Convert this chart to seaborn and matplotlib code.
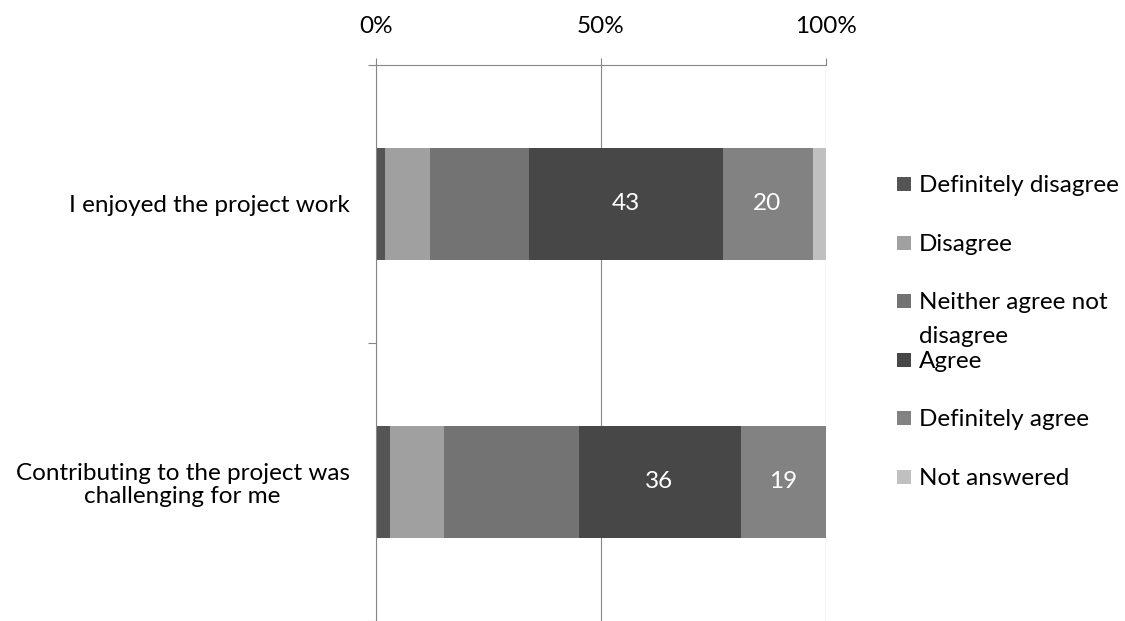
import pandas as pd
import seaborn as sns
import matplotlib.pyplot as plt
from matplotlib.patches import Rectangle

# Survey data (number of answers, each row sums to 100)
questions = ['I enjoyed the project work',
             'Contributing to the project was\nchallenging for me']
responses = ['Definitely disagree', 'Disagree', 'Neither agree not\ndisagree',
             'Agree', 'Definitely agree', 'Not answered']
enjoyed = [2, 10, 22, 43, 20, 3]
challenging = [3, 12, 30, 36, 19, 0]
colors = ['#555555', '#a0a0a0', '#737373', '#474747', '#828282', '#c0c0c0']
labelled = ['Agree', 'Definitely agree']

df = pd.DataFrame([enjoyed, challenging], index=questions, columns=responses)
pct = df.div(df.sum(axis=1), axis=0) * 100
cum = pct.cumsum(axis=1)

sns.set_theme(style='white')
plt.rcParams['font.family'] = ['Lato', 'DejaVu Sans']
fs = 17.5
grey = '#868686'

W, H = 1125, 621
fig = plt.figure(figsize=(W / 100, H / 100), dpi=100)
ax = fig.add_axes([376 / W, 0, 450 / W, 556 / H])

# stacked bars: draw the cumulative totals from the longest down
for resp, col in reversed(list(zip(responses, colors))):
    sns.barplot(x=cum[resp].values, y=questions, color=col, orient='h',
                width=0.4, saturation=1, linewidth=0, ax=ax)

for resp in labelled:
    for i, q in enumerate(questions):
        mid = cum.loc[q, resp] - pct.loc[q, resp] / 2
        ax.text(mid, i, f'{df.loc[q, resp]:.0f}', color='white',
                ha='center', va='center', fontsize=fs)

ax.set_xlim(0, 100)
ax.set_ylim(1.5, -0.5)
ax.xaxis.tick_top()
ax.set_xticks([0, 50, 100])
ax.set_xticklabels(['0%', '50%', '100%'])
ax.set_xlabel('')
ax.set_ylabel('')
ax.set_yticks([0, 1])
ax.set_yticklabels(questions, multialignment='center', linespacing=1.1)
ax.set_yticks([-0.5, 0.5, 1.5], minor=True)
ax.grid(axis='x', color=grey, linewidth=0.8)
ax.grid(axis='y', visible=False)
ax.set_axisbelow(True)

ax.tick_params(axis='x', which='major', top=True, bottom=False, direction='out',
               length=5, width=0.8, color=grey, pad=15.5, labelsize=fs,
               labelcolor='black')
ax.tick_params(axis='y', which='major', left=False, length=0, pad=19,
               labelsize=fs, labelcolor='black')
ax.tick_params(axis='y', which='minor', left=True, direction='out',
               length=6, width=0.8, color=grey)

for side in ['right', 'bottom']:
    ax.spines[side].set_visible(False)
for side in ['top', 'left']:
    ax.spines[side].set_color(grey)
    ax.spines[side].set_linewidth(0.8)

# legend entries, Excel style (wrapped label overflows into the gap)
y0, step, line_h = 184, 58.6, 34
for i, (resp, col) in enumerate(zip(responses, colors)):
    yc = y0 + step * i
    fig.add_artist(Rectangle((897 / W, 1 - (yc + 7) / H), 14 / W, 14 / H,
                             transform=fig.transFigure, color=col, lw=0))
    for k, line in enumerate(resp.split('\n')):
        fig.text(919 / W, 1 - (yc + 8 + k * line_h) / H, line, fontsize=fs,
                 va='baseline', ha='left', color='black')

fig.savefig('out.png', dpi=100)
